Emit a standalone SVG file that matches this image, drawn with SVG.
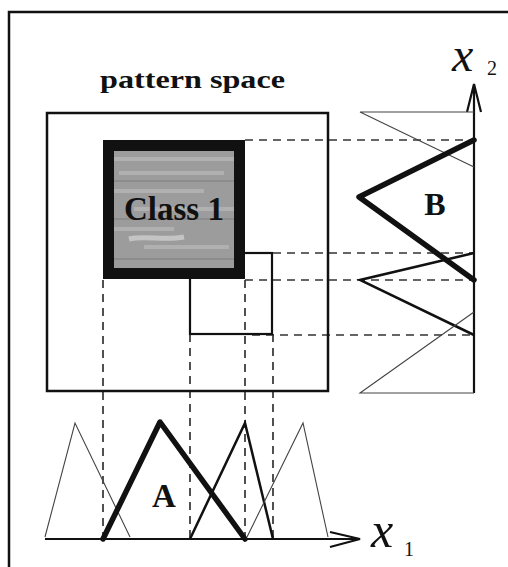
<svg xmlns="http://www.w3.org/2000/svg" width="508" height="567" viewBox="0 0 508 567">
<style>
.ser{font-family:"Liberation Serif","Times New Roman",serif;fill:#111}
.b{font-weight:bold}
.dash{fill:none;stroke:#333;stroke-width:1.7;stroke-dasharray:8 6}
.thin{fill:none;stroke:#444;stroke-width:1.1}
.med{fill:none;stroke:#111;stroke-width:2.5;stroke-linejoin:miter}
.thick{fill:none;stroke:#111;stroke-width:5.5;stroke-linejoin:round;stroke-linecap:round}
.box{fill:none;stroke:#111;stroke-width:2.5}
.axis{fill:none;stroke:#111;stroke-width:2.2}
</style>
<defs>
<pattern id="tex" patternUnits="userSpaceOnUse" x="114" y="151" width="120" height="117">
<rect width="120" height="117" fill="#9c9c9c"/>
<path d="M0,8 H120 M5,22 H110 M0,40 H90 M20,58 H120 M0,78 H60 M30,96 H115" stroke="#b0b0b0" stroke-width="4"/>
<path d="M15,88 C30,84 50,90 70,86" stroke="#c4c4c4" stroke-width="5" fill="none"/>
<path d="M0,30 H120 M0,68 H120 M0,108 H120" stroke="#8c8c8c" stroke-width="2"/>
</pattern>
</defs>
<rect width="508" height="567" fill="#fff"/>
<g id="frame"><path d="M9,567 V12 H508" fill="none" stroke="#111" stroke-width="2.5"/></g>

<g id="connectors">
<path class="dash" d="M245,140 H474 M273,253 H474 M245,280 H474 M252,335 H474"/>
<path class="dash" d="M103,280 V539 M190,334 V539 M245,280 V539"/>
<path class="dash" d="M273,334 V539" stroke="#777" stroke-width="1.2"/>
</g>

<g id="pattern-space">
<rect class="box" x="47" y="113" width="281" height="278"/>
<text class="ser b" x="100" y="88" font-size="25" textLength="185" lengthAdjust="spacingAndGlyphs">pattern space</text>
</g>

<g id="small-box"><rect x="190" y="253" width="82" height="81" fill="none" stroke="#111" stroke-width="2.2"/></g>

<g id="class1">
<rect x="108.5" y="145.5" width="131" height="128" fill="url(#tex)" stroke="#111" stroke-width="11"/>
<text class="ser b" x="174" y="220" font-size="33" text-anchor="middle">Class 1</text>
</g>

<g id="axis-x2">
<path class="axis" d="M474,393 V86"/>
<polyline class="axis" points="467,112 474,84 481,112"/>
<text class="ser" x="452" y="71" font-size="48" font-style="italic">x</text>
<text class="ser" x="487" y="75" font-size="20">2</text>
</g>

<g id="mf-B">
<polyline class="thin" points="474,112 360,112 474,167"/>
<polyline class="thick" points="474,140 359,197 474,280"/>
<polyline class="med" points="474,253 360,280 474,335"/>
<polyline class="thin" points="474,312 360,393 474,393"/>
<text class="ser b" x="435" y="215" font-size="32" text-anchor="middle">B</text>
</g>

<g id="axis-x1">
<path class="axis" d="M45,539 H358"/>
<polyline class="axis" points="330,532 360,539 330,547"/>
<text class="ser" x="371" y="547" font-size="50" font-style="italic">x</text>
<text class="ser" x="404" y="556" font-size="20">1</text>
</g>

<g id="mf-A">
<polyline class="thin" points="45,537 75,423 130,537"/>
<polyline class="thick" points="103,539 160,422 245,539"/>
<polyline class="med" points="190,539 245,423 273,539"/>
<polyline class="thin" points="247,537 303,423 328,537"/>
<text class="ser b" x="164" y="507" font-size="33" text-anchor="middle">A</text>
</g>
</svg>
